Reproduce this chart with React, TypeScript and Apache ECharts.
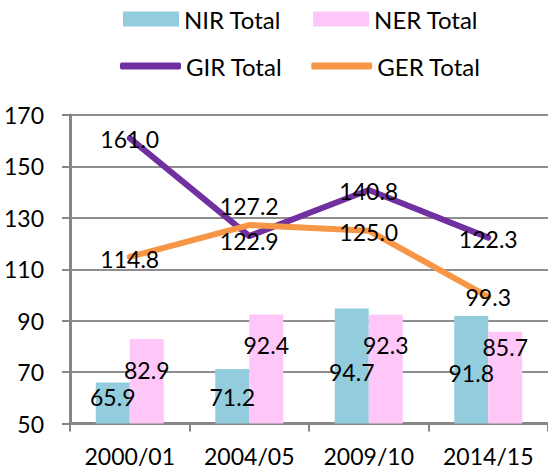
import React, { useEffect, useRef } from "react";
import * as echarts from "echarts";

const categories = ["2000/01", "2004/05", "2009/10", "2014/15"];
const nirTotal = [65.9, 71.2, 94.7, 91.8];
const nerTotal = [82.9, 92.4, 92.3, 85.7];
const girTotal = [161.0, 122.9, 140.8, 122.3];
const gerTotal = [114.8, 127.2, 125.0, 99.3];

// label vertical nudges (px)
const nirLabelDy = [3, 17, 52, 45];
const nerLabelDy = [20, 19, 19, 4];
const girLabelDy = [1, 5, 1, 1];
const gerLabelDy = [2, -19, 1, 0];

const FONT = "Lato";
const FS = 23;
const LFS = 24;

export default function App() {
  const ref = useRef<HTMLDivElement>(null);
  useEffect(() => {
    if (!ref.current) return;
    const chart = echarts.init(ref.current, null, { renderer: "svg" });
    const labelBase = {
      show: true,
      color: "#000",
      fontFamily: FONT,
      fontSize: FS,
      formatter: (p: any) => Number(p.value).toFixed(1),
    };
    const withDy = (vals: number[], dys: number[]) =>
      vals.map((v, i) => ({
        value: v,
        label: { offset: [0, dys[i]] },
      }));
    chart.setOption({
      animation: false,
      backgroundColor: "#fff",
      textStyle: { fontFamily: FONT },
      legend: [
        {
          data: ["NIR Total", "NER Total"],
          left: 123,
          top: 7,
          padding: 0,
          itemWidth: 56,
          itemHeight: 15,
          itemGap: 32,
          icon: "rect",
          textStyle: { fontFamily: FONT, fontSize: LFS, color: "#000" },
        },
        {
          data: [
            { name: "GIR Total", icon: "roundRect" },
            { name: "GER Total", icon: "roundRect" },
          ],
          left: 120,
          top: 54,
          padding: 0,
          itemWidth: 61,
          itemHeight: 7,
          itemGap: 29,
          textStyle: { fontFamily: FONT, fontSize: LFS, color: "#000" },
        },
      ],
      grid: { left: 70, right: 0, top: 115, bottom: 48.5 },
      xAxis: {
        type: "category",
        data: categories,
        boundaryGap: true,
        axisLine: { lineStyle: { color: "#868686", width: 3 } },
        axisTick: { show: true, length: 8, interval: 0, lineStyle: { color: "#868686", width: 2 } },
        axisLabel: { fontFamily: FONT, fontSize: FS, color: "#000", margin: 21, interval: 0 },
      },
      yAxis: {
        type: "value",
        min: 50,
        max: 170,
        interval: 20,
        axisLine: { show: true, lineStyle: { color: "#868686", width: 3 } },
        axisTick: { show: true, length: 8, lineStyle: { color: "#868686", width: 2 } },
        axisLabel: { fontFamily: FONT, fontSize: FS, color: "#000", margin: 26 },
        splitLine: { show: true, lineStyle: { color: "#8e8e8e", width: 2 } },
      },
      series: [
        {
          name: "NIR Total",
          type: "bar",
          data: withDy(nirTotal, nirLabelDy),
          barWidth: 34,
          barGap: "0%",
          itemStyle: { color: "#93CDDD" },
          label: { ...labelBase, position: "insideTop", distance: 0 },
          z: 2,
        },
        {
          name: "NER Total",
          type: "bar",
          data: withDy(nerTotal, nerLabelDy),
          barWidth: 34,
          barGap: "0%",
          itemStyle: { color: "#FFC6F8" },
          label: { ...labelBase, position: "insideTop", distance: 0 },
          z: 2,
        },
        {
          name: "GIR Total",
          type: "line",
          data: withDy(girTotal, girLabelDy),
          symbol: "circle",
          symbolSize: 1,
          showSymbol: true,
          itemStyle: { color: "#7030A0" },
          lineStyle: { color: "#7030A0", width: 6, cap: "round", join: "round" },
          label: { ...labelBase, position: "inside" },
          z: 3,
        },
        {
          name: "GER Total",
          type: "line",
          data: withDy(gerTotal, gerLabelDy),
          symbol: "circle",
          symbolSize: 1,
          showSymbol: true,
          itemStyle: { color: "#F79646" },
          lineStyle: { color: "#F79646", width: 6, cap: "round", join: "round" },
          label: { ...labelBase, position: "inside" },
          z: 3,
        },
      ],
    });
    return () => chart.dispose();
  }, []);
  return (
    <div
      ref={ref}
      style={{ position: "fixed", left: 0, top: 0, width: 548, height: 472 }}
    />
  );
}
